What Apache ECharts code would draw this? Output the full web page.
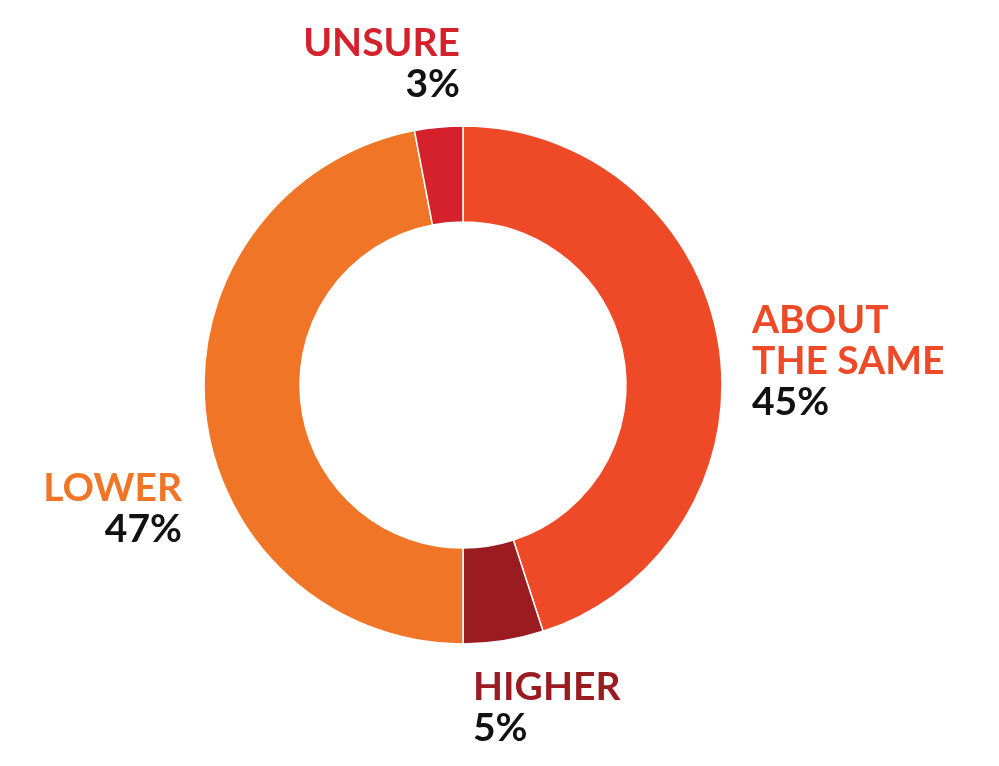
<!DOCTYPE html>
<html>
<head>
<meta charset="utf-8">
<script src="https://cdn.jsdelivr.net/npm/echarts@6/dist/echarts.min.js"></script>
<style>
  html, body { margin: 0; padding: 0; background: #fff; }
  #chart { width: 999px; height: 766px; }
</style>
</head>
<body>
<div id="chart"></div>
<script>
// slices in clockwise order from 12 o'clock
const categories = ["ABOUT\nTHE SAME", "HIGHER", "LOWER", "UNSURE"];
const shares = [45, 5, 47, 3];
const colors = ["#EE4A27", "#9A1B20", "#F07526", "#D4212B"];

// where each label block sits (left/right edge, top) and which way it aligns
const labelSpots = [
  { x: 752, y: 300, align: "left" },
  { x: 473, y: 667, align: "left" },
  { x: 182, y: 468, align: "right" },
  { x: 460, y: 23, align: "right" }
];

const chart = echarts.init(document.getElementById("chart"));

const nameStyle = (c) => ({ color: c, fontSize: 39, fontWeight: "bold", lineHeight: 41, fontFamily: "Lato" });

const option = {
  animation: false,
  series: [
    {
      type: "pie",
      center: [463, 385],
      radius: [163, 259],
      startAngle: 90,
      clockwise: true,
      avoidLabelOverlap: false,
      itemStyle: { borderColor: "#fff", borderWidth: 1.5 },
      emphasis: { disabled: true },
      labelLine: { show: false },
      label: {
        show: true,
        position: "outside",
        fontFamily: "Lato",
        formatter: (p) => {
          const lines = p.name.split("\n").map((l) => "{n" + p.dataIndex + "|" + l + "}");
          return lines.join("\n") + "\n{pct|" + p.value + "%}";
        },
        rich: {
          n0: nameStyle(colors[0]),
          n1: nameStyle(colors[1]),
          n2: nameStyle(colors[2]),
          n3: nameStyle(colors[3]),
          pct: nameStyle("#111")
        }
      },
      labelLayout: (params) => {
        const s = labelSpots[params.dataIndex];
        return { x: s.x, y: s.y, align: s.align, verticalAlign: "top" };
      },
      data: categories.map((name, i) => ({
        name: name,
        value: shares[i],
        itemStyle: { color: colors[i] }
      }))
    }
  ]
};

chart.setOption(option);
</script>
</body>
</html>
